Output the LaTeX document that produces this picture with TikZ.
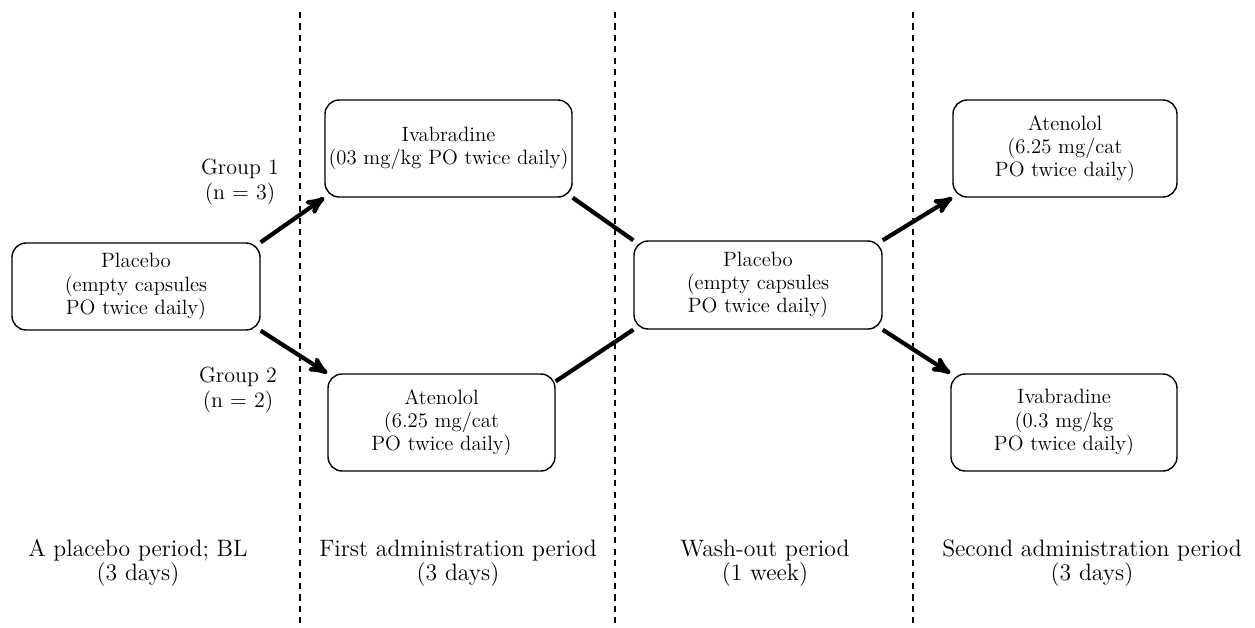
\documentclass[tikz,border=0pt]{standalone}
\usetikzlibrary{calc}
\usetikzlibrary{arrows}
\usepackage{amsmath}

\begin{document}
\begin{tikzpicture}[x=0.02cm,y=-0.02cm,
  box/.style={draw,black,line width=0.8pt,rounded corners=8pt,align=center,font=\fontsize{11.8}{13.2}\selectfont,inner sep=2pt},
  lbl/.style={align=center,font=\fontsize{12.5}{14}\selectfont,inner sep=1pt},
  period/.style={align=center,font=\fontsize{13.5}{13.5}\selectfont,inner sep=1pt}]
\useasboundingbox (0,0) rectangle (1255,627);
\foreach \x in {300, 615, 913} {
 \draw[black, line width=0.7pt, dash pattern=on 3.5pt off 3pt] (\x,12) --++(0,615);
}
\node[box, minimum width=4.96cm, minimum height=1.74cm] (plA) at (136,286.5) {Placebo\\(empty capsules\\PO twice daily)};
\node[box, minimum width=4.78cm, minimum height=1.94cm] (ivA) at (448.5,148.5) {Ivabradine\\(03 mg/kg PO twice daily)};
\node[box, minimum width=4.54cm, minimum height=1.94cm] (atA) at (441.5,422.5) {Atenolol\\(6.25 mg/cat\\PO twice daily)};
\node[box, minimum width=4.96cm, minimum height=1.76cm] (plB) at (758,285) {Placebo\\(empty capsules\\PO twice daily)};
\node[box, minimum width=4.48cm, minimum height=1.94cm] (atB) at (1065,148.5) {Atenolol\\(6.25 mg/cat\\PO twice daily)};
\node[box, minimum width=4.52cm, minimum height=1.94cm] (ivB) at (1064,422.5) {Ivabradine\\(0.3 mg/kg\\PO twice daily)};
\node[lbl] (grA) at (240,182) {Group 1\\(n = 3)};
\node[lbl] (grB) at (238,390) {Group 2\\(n = 2)};
\draw[black, line width=2.4pt, ->, >=stealth'] (plA.north east)--(ivA.south west);
\draw[black, line width=2.4pt, ->, >=stealth'] (plA.south east)--(atA.north west);
\draw[black, line width=2.4pt] (ivA.south east)--(plB.north west);
\draw[black, line width=2.4pt] ($(atA.north east)+(0,8)$)--(plB.south west);
\draw[black, line width=2.4pt, ->, >=stealth'] (plB.north east)--(atB.south west);
\draw[black, line width=2.4pt, ->, >=stealth'] (plB.south east)--(ivB.north west);
\node[period] (pdA) at (138,563) {A placebo period; BL\\(3 days)};
\node[period] (pdB) at (458,563) {First administration period\\(3 days)};
\node[period] (pdC) at (765,563) {Wash-out period\\(1 week)};
\node[period] (pdD) at (1092,563) {Second administration period\\(3 days)};
\end{tikzpicture}
\end{document}
